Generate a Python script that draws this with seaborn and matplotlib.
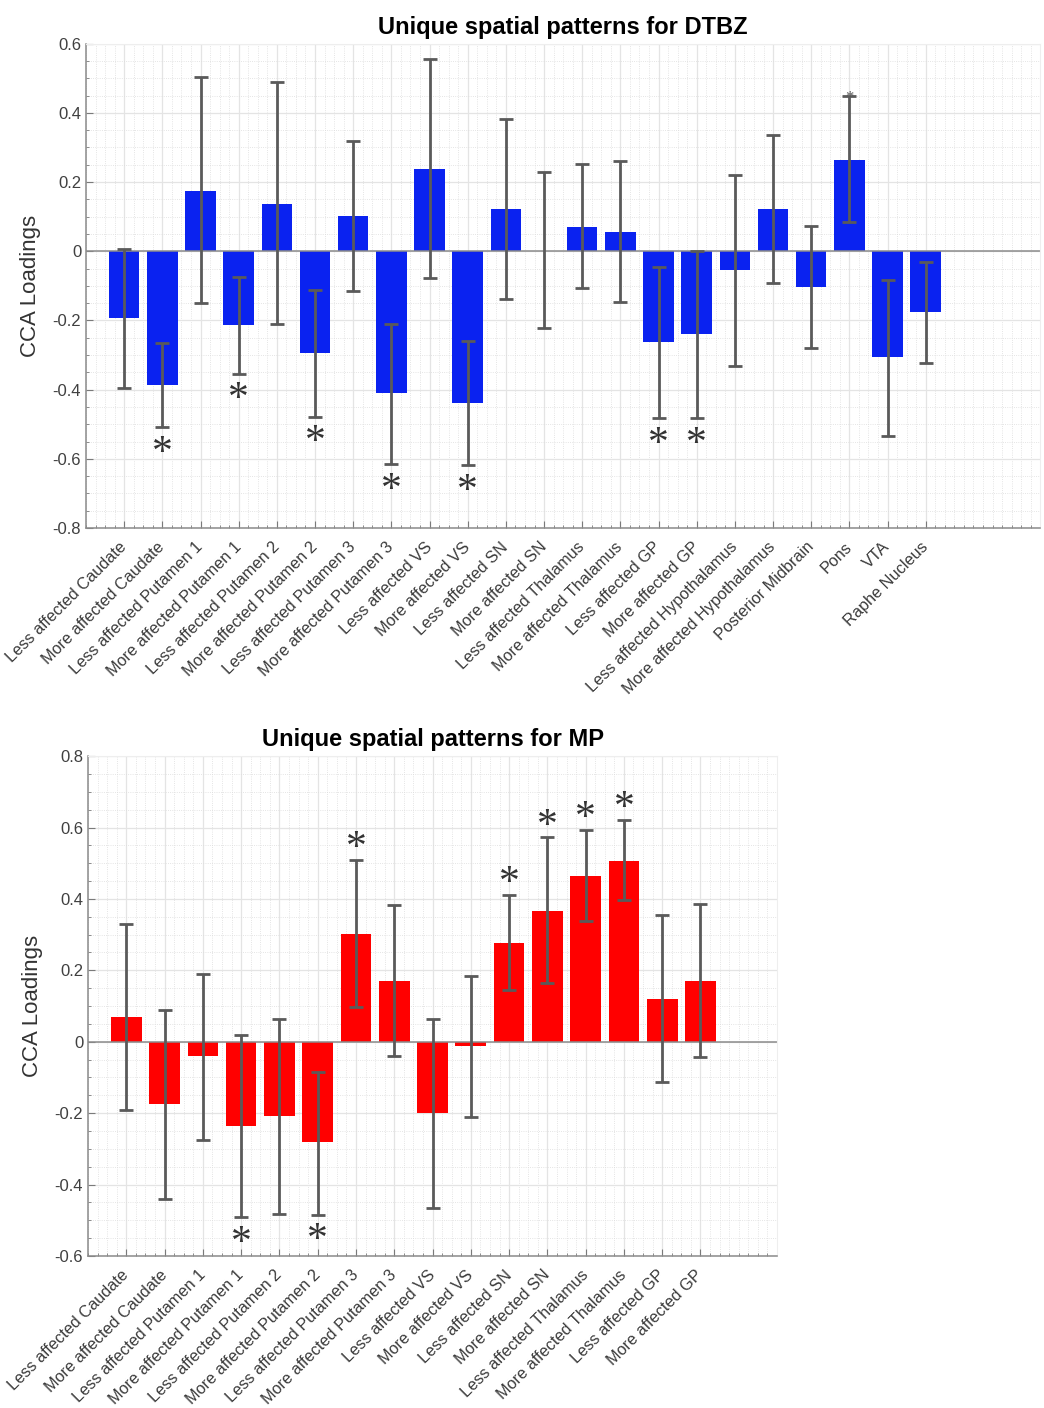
import numpy as np
import pandas as pd
import matplotlib
matplotlib.use("Agg")
import matplotlib.pyplot as plt
from matplotlib.ticker import MultipleLocator, FuncFormatter
from matplotlib.transforms import ScaledTranslation
import seaborn as sns

# DTBZ panel
dtbz_regions = [
    "Less affected Caudate", "More affected Caudate",
    "Less affected Putamen 1", "More affected Putamen 1",
    "Less affected Putamen 2", "More affected Putamen 2",
    "Less affected Putamen 3", "More affected Putamen 3",
    "Less affected VS", "More affected VS",
    "Less affected SN", "More affected SN",
    "Less affected Thalamus", "More affected Thalamus",
    "Less affected GP", "More affected GP",
    "Less affected Hypothalamus", "More affected Hypothalamus",
    "Posterior Midbrain", "Pons", "VTA", "Raphe Nucleus",
]
dtbz_loading = [-0.193, -0.386, 0.173, -0.213, 0.137, -0.294, 0.101, -0.411,
                0.238, -0.438, 0.121, 0.002, 0.071, 0.056, -0.262, -0.240,
                -0.054, 0.121, -0.102, 0.265, -0.307, -0.175]
dtbz_low = [-0.394, -0.508, -0.150, -0.354, -0.209, -0.478, -0.116, -0.616,
            -0.077, -0.619, -0.137, -0.221, -0.107, -0.146, -0.482, -0.482,
            -0.332, -0.091, -0.279, 0.084, -0.535, -0.324]
dtbz_high = [0.005, -0.265, 0.503, -0.074, 0.488, -0.111, 0.320, -0.211,
             0.556, -0.260, 0.381, 0.228, 0.252, 0.262, -0.045, 0.002,
             0.221, 0.337, 0.072, 0.448, -0.084, -0.030]
dtbz_stars_below = [1, 3, 5, 7, 9, 14, 15]
dtbz_stars_above = []
dtbz_stars_small = [19]   # half hidden star on the Pons cap

# MP panel
mp_regions = dtbz_regions[:16]
mp_loading = [0.070, -0.175, -0.041, -0.235, -0.207, -0.282, 0.301, 0.170,
              -0.200, -0.012, 0.276, 0.366, 0.464, 0.507, 0.120, 0.170]
mp_low = [-0.190, -0.441, -0.274, -0.491, -0.482, -0.484, 0.097, -0.041,
          -0.466, -0.212, 0.145, 0.165, 0.339, 0.396, -0.113, -0.043]
mp_high = [0.329, 0.090, 0.189, 0.020, 0.065, -0.085, 0.508, 0.384,
           0.065, 0.185, 0.411, 0.572, 0.594, 0.621, 0.356, 0.386]
mp_stars_below = [3, 5]
mp_stars_above = [6, 10, 11, 12, 13]

plt.rcParams['font.family'] = ['Liberation Sans', 'DejaVu Sans']

fig = plt.figure(figsize=(10.44, 14.08), dpi=100)
ax_top = fig.add_axes([0.0824, 0.625, 0.914, 0.344])
ax_bot = fig.add_axes([0.0843, 0.108, 0.660, 0.355])


def draw_panel(ax, regions, loading, low, high, color, title, xlim, ylim,
               stars_below, stars_above, stars_small=()):
    df = pd.DataFrame({"region": regions, "loading": loading})
    loading = np.array(loading)
    low = np.array(low)
    high = np.array(high)
    x = np.arange(len(regions))

    ax.set_axisbelow(True)
    sns.barplot(data=df, x="region", y="loading", order=regions, color=color,
                saturation=1, width=0.8, errorbar=None, linewidth=0, ax=ax)
    ax.axhline(0, color="#8c8c8c", lw=1.1, zorder=2)
    ax.errorbar(x, loading, yerr=[loading - low, high - loading], fmt="none",
                ecolor="#5a5a5a", elinewidth=2, capsize=5, capthick=2, zorder=3)

    # significance asterisks
    for i in stars_below:
        ax.annotate("*", (i, low[i]), xytext=(0, -19), textcoords="offset points",
                    ha="center", va="center", fontsize=30, color="#333333",
                    family="Liberation Serif")
    for i in stars_above:
        ax.annotate("*", (i, high[i]), xytext=(0, 8), textcoords="offset points",
                    ha="center", va="center", fontsize=30, color="#333333",
                    family="Liberation Serif")
    for i in stars_small:
        ax.annotate("*", (i, high[i]), xytext=(0, -1), textcoords="offset points",
                    ha="center", va="center", fontsize=12, color="#555555",
                    family="Liberation Serif")

    ax.set_xlim(*xlim)
    ax.set_ylim(*ylim)
    ax.yaxis.set_major_locator(MultipleLocator(0.2))
    ax.yaxis.set_minor_locator(MultipleLocator(0.05))
    ax.yaxis.set_major_formatter(FuncFormatter(lambda v, p: "%g" % round(v, 2)))
    ax.xaxis.set_minor_locator(MultipleLocator(0.25))
    ax.set_xticks(x)
    ax.set_xticklabels(regions, rotation=45, ha="right", va="center",
                       rotation_mode="anchor", fontsize=11.7, color="#3a3a3a")
    # nudge the rotated labels a little to the right, like the original
    shift = ScaledTranslation(5 / 72, 0, fig.dpi_scale_trans)
    for lab in ax.get_xticklabels():
        lab.set_transform(lab.get_transform() + shift)
    ax.tick_params(axis="x", which="major", pad=12)
    ax.tick_params(axis="y", labelsize=12, labelcolor="#404040")
    ax.tick_params(which="both", direction="in", color="#7a7a7a")
    ax.tick_params(which="major", length=5)
    ax.tick_params(which="minor", length=2.5)

    ax.grid(True, which="major", color="#e4e4e4", lw=0.9)
    ax.grid(True, which="minor", color="#dcdcdc", lw=0.6, ls=":")
    for side in ["left", "bottom"]:
        ax.spines[side].set_color("#8a8a8a")
        ax.spines[side].set_linewidth(1.1)
    for side in ["top", "right"]:
        ax.spines[side].set_color("#eeeeee")

    ax.set_xlabel("")
    ax.set_ylabel("CCA Loadings", fontsize=16, color="#333333", labelpad=8)
    ax.set_title(title, fontsize=17, fontweight="bold", pad=7)


draw_panel(ax_top, dtbz_regions, dtbz_loading, dtbz_low, dtbz_high, "#0a22f0",
           "Unique spatial patterns for DTBZ", (-1, 24), (-0.8, 0.6),
           dtbz_stars_below, dtbz_stars_above, dtbz_stars_small)
draw_panel(ax_bot, mp_regions, mp_loading, mp_low, mp_high, "#ff0000",
           "Unique spatial patterns for MP", (-1, 17), (-0.6, 0.8),
           mp_stars_below, mp_stars_above)

fig.savefig("out.png", dpi=100, facecolor="white")
